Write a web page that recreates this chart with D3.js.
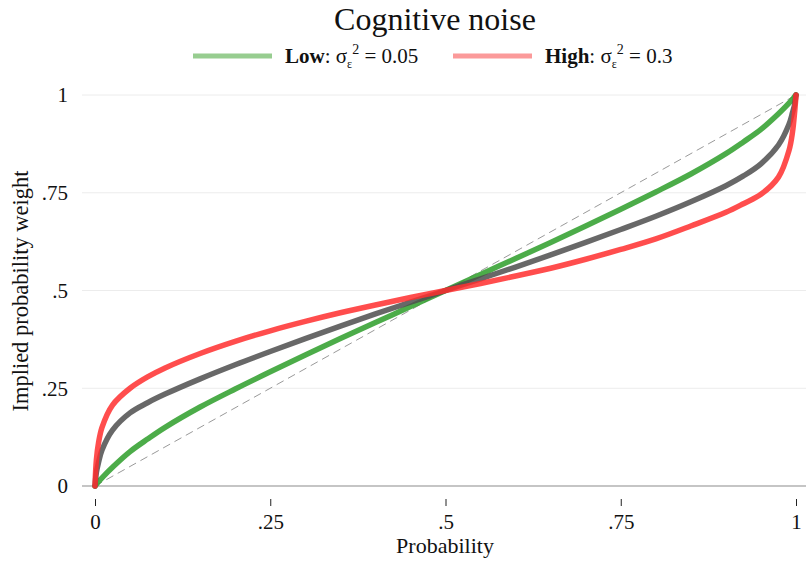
<!DOCTYPE html>
<html>
<head>
<meta charset="utf-8">
<script src="https://cdn.jsdelivr.net/npm/d3@7"></script>
<style>
  html, body { margin: 0; padding: 0; background: #fff; }
  svg { display: block; font-family: "Liberation Serif", "DejaVu Serif", serif; }
</style>
</head>
<body>
<svg id="chart" width="806" height="562"></svg>
<script>
// Probability grid at which the implied weights are given
const probability = [0, 0.002, 0.005, 0.01, 0.025, 0.05, 0.075, 0.1, 0.15, 0.2, 0.25, 0.3, 0.35, 0.4, 0.45,
  0.5, 0.55, 0.6, 0.65, 0.7, 0.75, 0.8, 0.85, 0.9, 0.925, 0.95, 0.975, 0.99, 0.995, 0.998, 1];

// Implied probability weight, low cognitive noise (σ² = 0.05)
const weightLow = [0, 0.0045, 0.011, 0.021, 0.048, 0.088, 0.12, 0.15, 0.202, 0.248, 0.292, 0.335, 0.377, 0.418, 0.459,
  0.5, 0.541, 0.582, 0.623, 0.665, 0.708, 0.752, 0.798, 0.85, 0.88, 0.912, 0.952, 0.979, 0.989, 0.996, 1];

// Implied probability weight, intermediate noise
const weightMid = [0, 0.035, 0.06, 0.092, 0.143, 0.187, 0.213, 0.235, 0.274, 0.31, 0.344, 0.377, 0.409, 0.44, 0.47,
  0.5, 0.53, 0.56, 0.591, 0.623, 0.656, 0.69, 0.727, 0.768, 0.793, 0.824, 0.872, 0.925, 0.955, 0.975, 1];

// Implied probability weight, high cognitive noise (σ² = 0.3)
const weightHigh = [0, 0.068, 0.11, 0.15, 0.207, 0.25, 0.279, 0.302, 0.339, 0.37, 0.397, 0.421, 0.443, 0.463, 0.482,
  0.5, 0.518, 0.537, 0.557, 0.58, 0.605, 0.632, 0.665, 0.7, 0.722, 0.746, 0.79, 0.858, 0.905, 0.955, 1];

const xTicks = [0, 0.25, 0.5, 0.75, 1];
const xTickLabels = ["0", ".25", ".5", ".75", "1"];
const yTicks = [0, 0.25, 0.5, 0.75, 1];
const yTickLabels = ["0", ".25", ".5", ".75", "1"];

const svg = d3.select("#chart");
const x = d3.scaleLinear().domain([0, 1]).range([95, 796]);
const y = d3.scaleLinear().domain([0, 1]).range([486, 95]);

// Horizontal gridlines
svg.append("g").selectAll("line")
  .data(yTicks.filter(d => d > 0))
  .join("line")
  .attr("x1", 82).attr("x2", 806)
  .attr("y1", d => y(d)).attr("y2", d => y(d))
  .attr("stroke", "#ececec").attr("stroke-width", 1);

// Horizontal axis line
svg.append("line")
  .attr("x1", 82).attr("x2", 806)
  .attr("y1", y(0)).attr("y2", y(0))
  .attr("stroke", "#8c8c8c").attr("stroke-width", 1.2);

// Y tick labels
svg.append("g").selectAll("text")
  .data(yTicks)
  .join("text")
  .attr("x", 68).attr("y", d => y(d))
  .attr("dy", "0.35em")
  .attr("text-anchor", "end")
  .attr("font-size", 21)
  .attr("fill", "#111")
  .text((d, i) => yTickLabels[i]);

// X axis ticks and labels
const xAxis = d3.axisBottom(x)
  .tickValues(xTicks)
  .tickFormat((d, i) => xTickLabels[i])
  .tickSize(7)
  .tickPadding(8);
const gx = svg.append("g")
  .attr("transform", `translate(0,${y(0) + 13})`)
  .call(xAxis);
gx.select(".domain").remove();
gx.selectAll(".tick line").attr("stroke", "#222").attr("stroke-width", 1);
gx.selectAll(".tick text")
  .attr("font-family", "Liberation Serif, DejaVu Serif, serif")
  .attr("font-size", 21)
  .attr("fill", "#111");

// 45-degree reference line
svg.append("line")
  .attr("x1", x(0)).attr("y1", y(0))
  .attr("x2", x(1)).attr("y2", y(1))
  .attr("stroke", "#9a9a9a").attr("stroke-width", 1)
  .attr("stroke-dasharray", "8,5");

// Weighting curves
const series = [
  { values: weightLow, color: "#33a030", opacity: 0.88 },
  { values: weightMid, color: "#4d4d4d", opacity: 0.85 },
  { values: weightHigh, color: "#ff2e2e", opacity: 0.85 }
];
const line = d3.line()
  .x((d, i) => x(probability[i]))
  .y(d => y(d))
  .curve(d3.curveCatmullRom.alpha(0.5));

svg.append("g").selectAll("path")
  .data(series)
  .join("path")
  .attr("d", s => line(s.values))
  .attr("fill", "none")
  .attr("stroke", s => s.color)
  .attr("stroke-opacity", s => s.opacity)
  .attr("stroke-width", 5.5)
  .attr("stroke-linecap", "round")
  .attr("stroke-linejoin", "round");

// Title
svg.append("text")
  .attr("x", 435).attr("y", 30)
  .attr("text-anchor", "middle")
  .attr("font-size", 32)
  .attr("fill", "#111")
  .text("Cognitive noise");

// Legend
const legend = [
  { label: "Low", value: "0.05", color: "#97cd90", x0: 193 },
  { label: "High", value: "0.3", color: "#fb9a9a", x0: 453 }
];
const lg = svg.append("g").selectAll("g").data(legend).join("g");
lg.append("line")
  .attr("x1", d => d.x0).attr("x2", d => d.x0 + 79)
  .attr("y1", 56).attr("y2", 56)
  .attr("stroke", d => d.color).attr("stroke-width", 5);
const lt = lg.append("text")
  .attr("x", d => d.x0 + 92).attr("y", 63)
  .attr("font-size", 21)
  .attr("fill", "#111");
lt.append("tspan").attr("font-weight", "bold").text(d => d.label);
lt.append("tspan").text(": σ");
lt.append("tspan").attr("font-size", 12).attr("dy", 5).text("ε");
lt.append("tspan").attr("font-size", 14).attr("dy", -14).text("2");
lt.append("tspan").attr("dy", 9).text(d => " = " + d.value);

// Axis titles
svg.append("text")
  .attr("x", 445).attr("y", 553)
  .attr("text-anchor", "middle")
  .attr("font-size", 22)
  .attr("fill", "#111")
  .text("Probability");

svg.append("text")
  .attr("transform", "translate(28,291) rotate(-90)")
  .attr("text-anchor", "middle")
  .attr("font-size", 22.5)
  .attr("fill", "#111")
  .text("Implied probability weight");
</script>
</body>
</html>
